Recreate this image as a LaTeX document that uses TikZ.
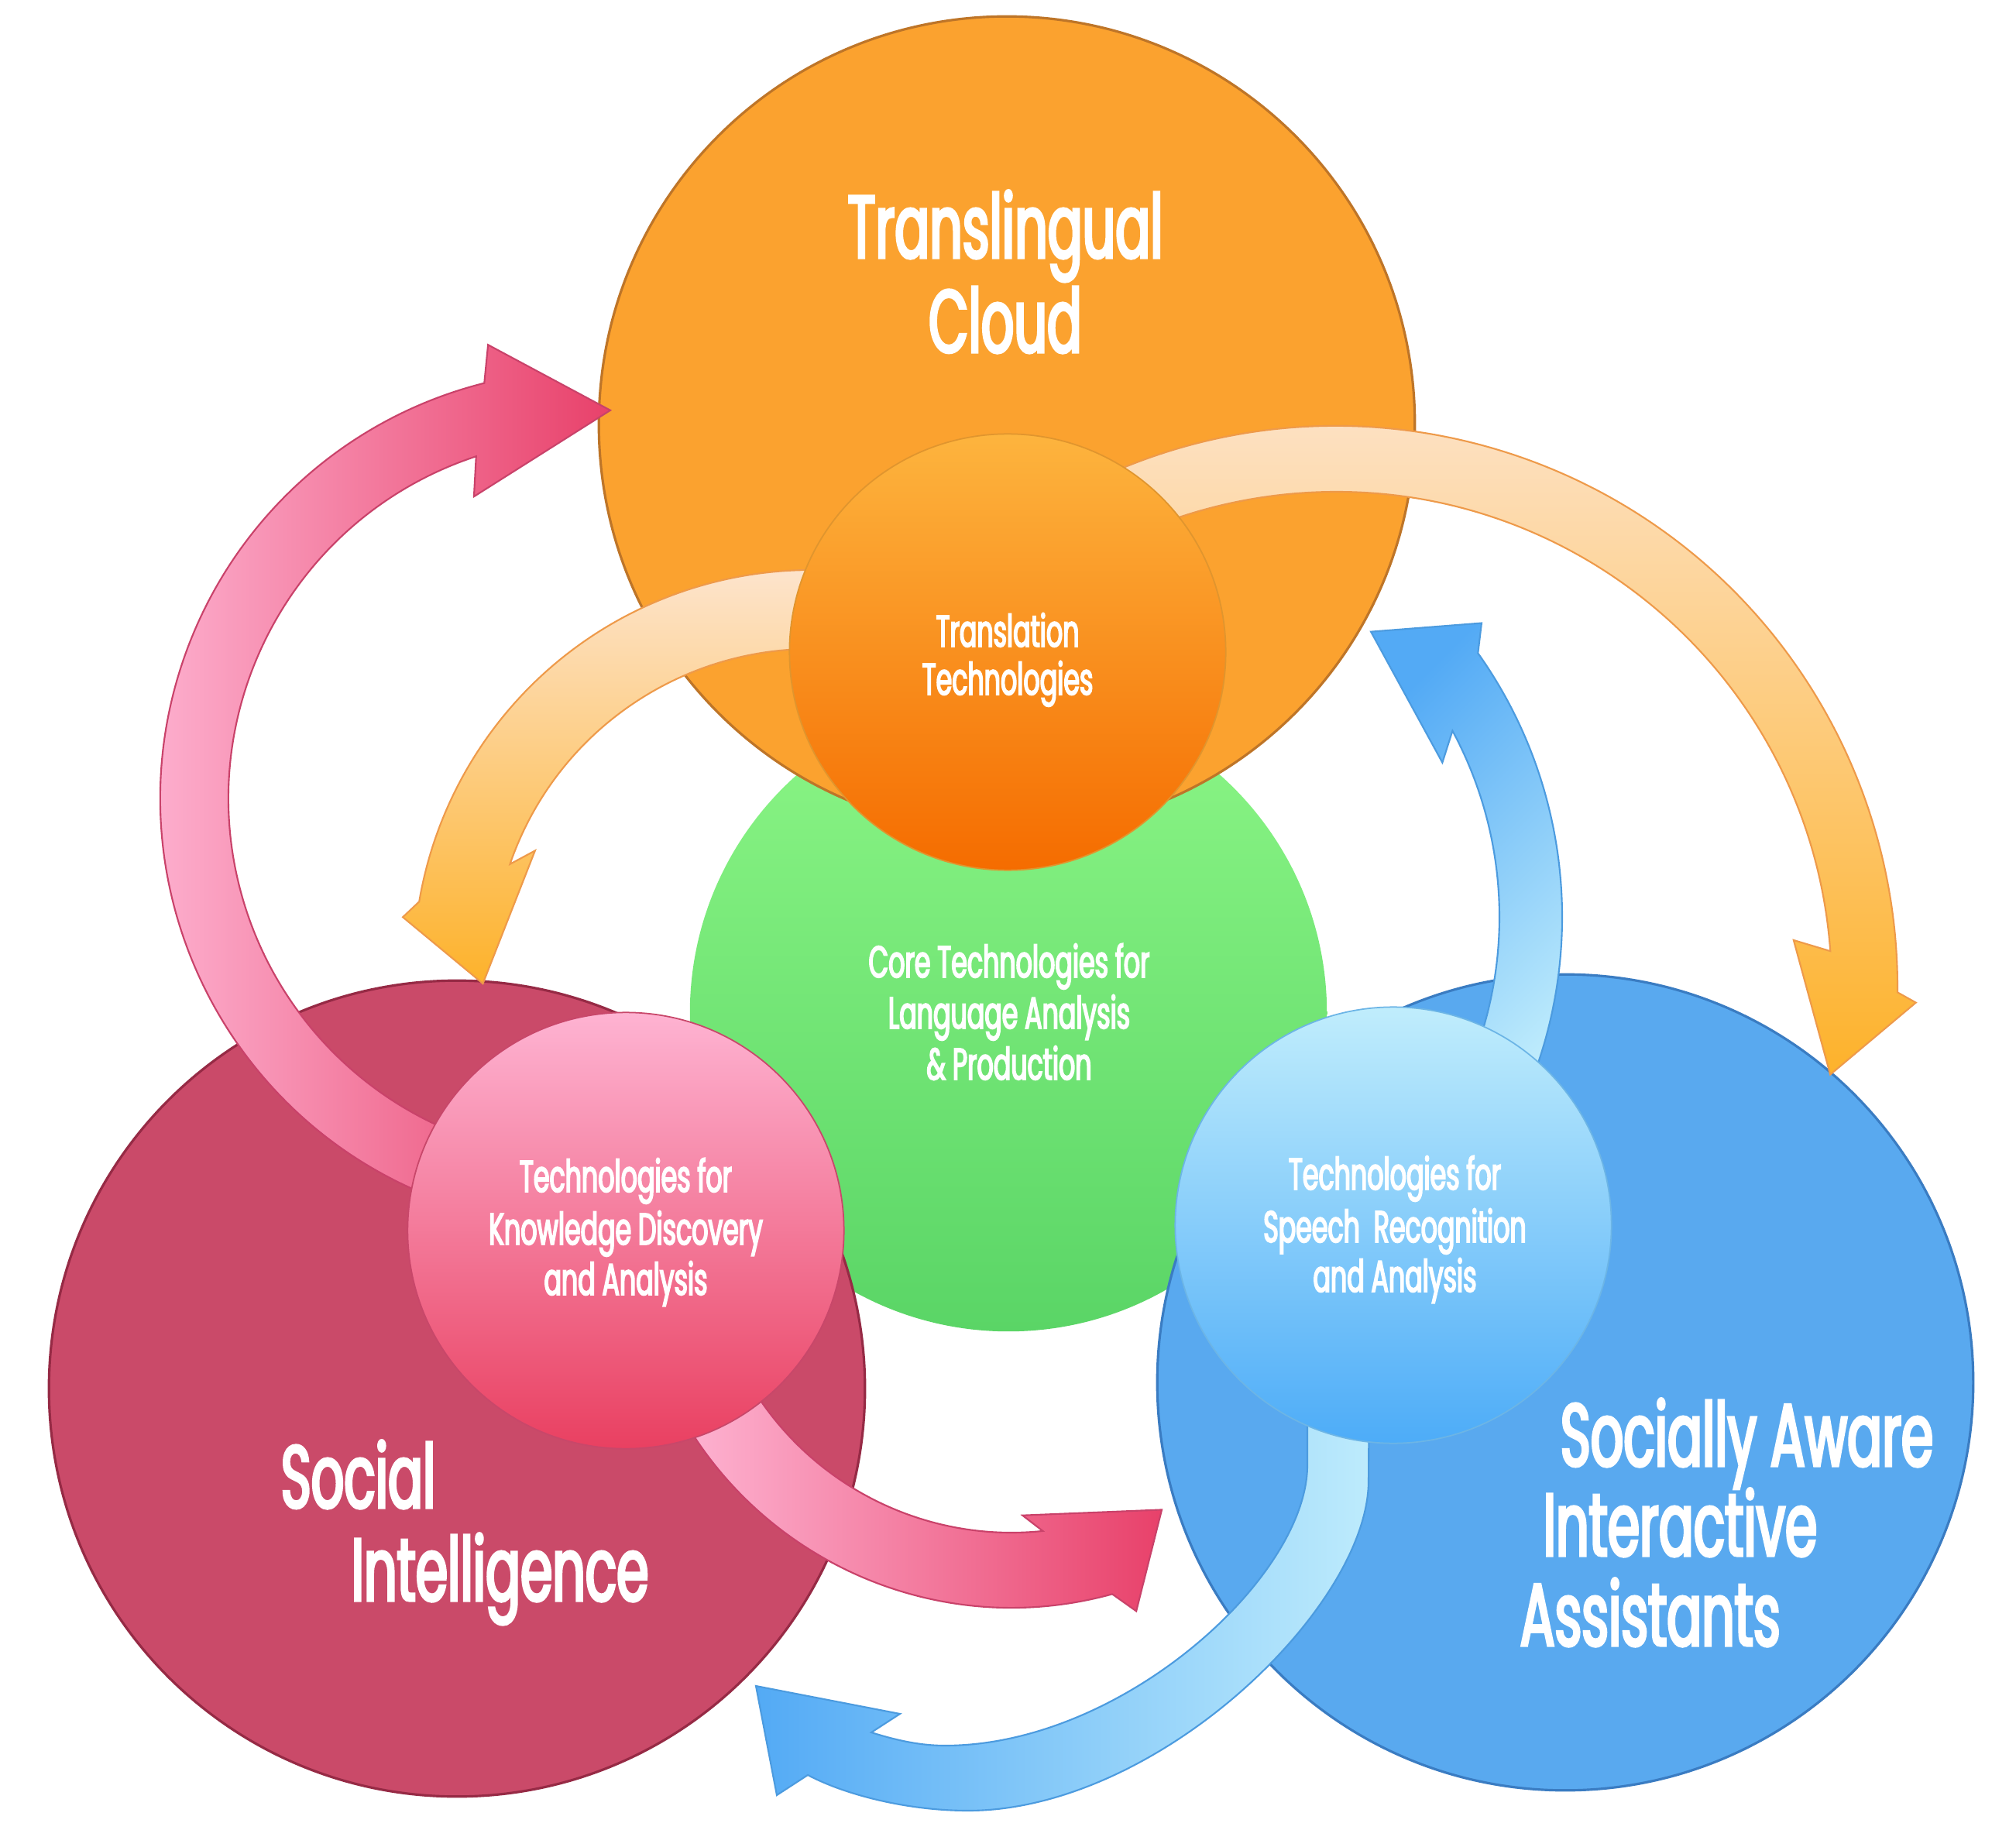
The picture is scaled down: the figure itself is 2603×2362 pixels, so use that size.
\documentclass[tikz,border=0pt]{standalone}
\usepackage{fontspec}
\newfontfamily\cfont[FakeStretch=0.58, FakeBold=3]{Poppins}
\definecolor{orgBig}{HTML}{FBA22F}
\definecolor{orgBigLine}{HTML}{BE7528}
\definecolor{orgSmT}{HTML}{FDB43E}
\definecolor{orgSmB}{HTML}{F56C00}
\definecolor{orgSmLine}{HTML}{E0952E}
\definecolor{grnT}{HTML}{8CF686}
\definecolor{grnB}{HTML}{5AD566}
\definecolor{crim}{HTML}{CA4A69}
\definecolor{crimLine}{HTML}{962A45}
\definecolor{pnkT}{HTML}{FEB3D2}
\definecolor{pnkB}{HTML}{E94061}
\definecolor{pnkLine}{HTML}{C8476A}
\definecolor{blu}{HTML}{59A9EF}
\definecolor{bluLine}{HTML}{3A7CC2}
\definecolor{lbT}{HTML}{C0EDFC}
\definecolor{lbB}{HTML}{4DACF8}
\definecolor{lbLine}{HTML}{6CB5E6}
\definecolor{arPinkL}{HTML}{FFBAD8}
\definecolor{arPinkD}{HTML}{E8416A}
\definecolor{arPinkLine}{HTML}{C9426A}
\definecolor{arOrgL}{HTML}{FDE6D3}
\definecolor{arOrgD}{HTML}{FDB22B}
\definecolor{arOrgLine}{HTML}{EE9A4A}
\definecolor{arBluL}{HTML}{BDEBFC}
\definecolor{arBluD}{HTML}{53AAF5}
\definecolor{arBluLine}{HTML}{4C9BDF}
\begin{document}
\begin{tikzpicture}[x=0.01cm, y=0.01cm,
  bigc/.style={circle, inner sep=0pt, minimum size=10.53cm, line width=0.9pt},
  smallc/.style={circle, inner sep=0pt, minimum size=5.63cm, line width=0.5pt},
  band/.style={line width=0.6pt, line join=miter},
  bigtxt/.style={text=white, inner sep=0pt, font=\cfont\fontsize{32.6}{34}\selectfont},
  smalltxt/.style={text=white, inner sep=0pt, font=\cfont\fontsize{16.3}{18}\selectfont},
]
\useasboundingbox (0,0) rectangle (2603,2362);
\fill[white] (0,0) rectangle (2603,2362);

% core circle
\node[circle, inner sep=0pt, minimum size=8.22cm, top color=grnT, bottom color=grnB] (core) at (1302,1054) {};

% big circles
\node[bigc, fill=orgBig, draw=orgBigLine] (cloud) at (1300,1814) {};
\node[bigc, fill=crim, draw=crimLine] (social) at (590,569) {};
\node[bigc, fill=blu, draw=bluLine] (assist) at (2021,577) {};

% pink arrow 1 (left, up to cloud)
\begin{scope}[shift={(760,1331)}]
\path[band, draw=arPinkLine, left color=arPinkL, right color=arPinkD]
  (250:553) arc[start angle=250, end angle=104.1, radius=553]
  -- (102.5:600) -- (86.8:502) -- (110.8:417) -- (108.2:465)
  arc[start angle=108.2, end angle=250, radius=465] -- cycle;
\end{scope}

% pink arrow 2 (bottom, to assistants)
\begin{scope}[shift={(1306,776)}]
\path[band, draw=arPinkLine, left color=arPinkL, right color=arPinkD]
  (200:490) arc[start angle=200, end angle=285.4, radius=490]
  -- (288.05:520) -- (298.1:412) -- (272.2:371) -- (275.9:393)
  arc[start angle=275.9, end angle=200, radius=393] -- cycle;
\end{scope}

% orange arrow 1 (left, down to social)
\begin{scope}[shift={(1048,1112)}]
\path[band, draw=arOrgLine, top color=arOrgL, bottom color=arOrgD]
  (80:514) arc[start angle=80, end angle=170.4, radius=514]
  -- (172.9:532) -- (182.7:425) -- (157:388) -- (161:412)
  arc[start angle=161, end angle=80, radius=412] -- cycle;
\end{scope}

% orange arrow 2 (right, down to assistants)
\begin{scope}[shift={(1725,1087)}]
\path[band, draw=arOrgLine, top color=arOrgL, bottom color=arOrgD]
  (120:725) arc[start angle=120, end angle=-0.5, radius=725]
  -- (-1.5:749) -- (-10:648) -- (5.9:594) -- (4.2:640)
  arc[start angle=4.2, end angle=120, radius=640] -- cycle;
\end{scope}

% blue arrow 1 (up to cloud)
\begin{scope}[shift={(1429,1178)}]
\path[band, draw=arBluLine, top color=arBluD, bottom color=arBluL, shading angle=45]
  (-25:588) arc[start angle=-25, end angle=35.4, radius=588]
  -- (38.1:615) -- (47.2:502) -- (24.7:477) -- (28.3:507)
  arc[start angle=28.3, end angle=-25, radius=507] -- cycle;
\end{scope}

% blue arrow 2 (bottom, to social)
\path[band, draw=arBluLine, left color=arBluD, right color=arBluL]
  (1768,600) -- (1767,450) .. controls (1767,287) and (1494,24) .. (1250,24)
  .. controls (1170,24) and (1090,45) .. (1043,70)
  -- (1003,44) -- (976,185) -- (1162,149) -- (1125,125)
  .. controls (1160,114) and (1190,108) .. (1220,108)
  .. controls (1449,108) and (1688,326) .. (1688,470)
  -- (1688,600) -- cycle;

% small circles
\node[smallc, top color=orgSmT, bottom color=orgSmB, draw=orgSmLine] (transl) at (1301,1520) {};
\node[smallc, top color=pnkT, bottom color=pnkB, draw=pnkLine] (know) at (808,773) {};
\node[smallc, top color=lbT, bottom color=lbB, draw=lbLine] (speech) at (1799,780) {};

% texts
\node[bigtxt, anchor=base] (t1) at (1298,2029) {Translingual};
\node[bigtxt, anchor=base] (t2) at (1298,1907) {Cloud};
\node[bigtxt, anchor=base west] (s1) at (362,415) {Social};
\node[bigtxt, anchor=base west] (s2) at (453,295) {Intelligence};
\node[bigtxt, anchor=base west] (a1) at (2014,469) {Socially Aware};
\node[bigtxt, anchor=base west] (a2) at (1992,353) {Interactive};
\node[bigtxt, anchor=base west] (a3) at (1962,237) {Assistants};

\node[smalltxt, anchor=base] (tt1) at (1301,1527) {Translation};
\node[smalltxt, anchor=base] (tt2) at (1301,1465) {Technologies};
\node[smalltxt, anchor=base] (c1) at (1303,1100) {Core Technologies for};
\node[smalltxt, anchor=base] (c2) at (1303,1034) {Language Analysis};
\node[smalltxt, anchor=base] (c3) at (1303,968) {\& Production};
\node[smalltxt, anchor=base] (k1) at (808,823) {Technologies for};
\node[smalltxt, anchor=base] (k2) at (808,755) {Knowledge Discovery};
\node[smalltxt, anchor=base] (k3) at (808,690) {and Analysis};
\node[smalltxt, anchor=base] (p1) at (1801,826) {Technologies for};
\node[smalltxt, anchor=base] (p2) at (1801,758) {Speech\ \ Recognition};
\node[smalltxt, anchor=base] (p3) at (1801,694) {and Analysis};
\end{tikzpicture}
\end{document}
